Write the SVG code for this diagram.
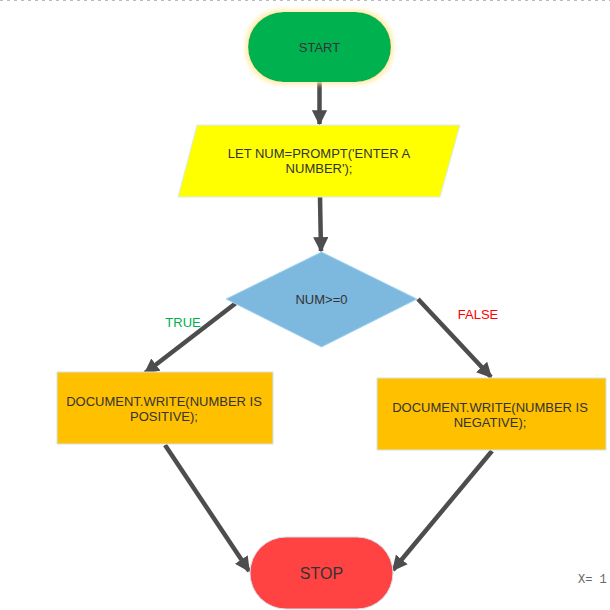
<svg xmlns="http://www.w3.org/2000/svg" width="610" height="610" viewBox="0 0 610 610">
<style>
  .t{font-family:"Liberation Sans",Arial,sans-serif;font-size:13px;fill:#333;text-anchor:middle}
  .c{stroke:#4d4d4d;stroke-width:4.5;fill:none;marker-end:url(#ah)}
</style>
<defs>
  <marker id="ah" viewBox="0 0 10 10" refX="9" refY="5" markerWidth="3.4" markerHeight="3.4" orient="auto" markerUnits="strokeWidth">
    <path d="M0,0 L10,5 L0,10 z" fill="#4d4d4d"/>
  </marker>
  <filter id="glow" x="-20%" y="-30%" width="140%" height="160%">
    <feMorphology in="SourceAlpha" operator="dilate" radius="2" result="d"/>
    <feGaussianBlur in="d" stdDeviation="2.5" result="b"/>
    <feFlood flood-color="#ffe9a0"/>
    <feComposite in2="b" operator="in" result="g"/>
    <feMerge><feMergeNode in="g"/><feMergeNode in="SourceGraphic"/></feMerge>
  </filter>
</defs>
<rect width="610" height="610" fill="#fff"/>
<line x1="0" y1="0.5" x2="610" y2="0.5" stroke="#bbb" stroke-width="1" stroke-dasharray="3,4"/>
<g id="connectors">
  <line class="c" x1="319.5" y1="82" x2="319.5" y2="124"/>
  <line class="c" x1="320" y1="197" x2="321" y2="251"/>
  <line class="c" x1="236" y1="303" x2="145" y2="373"/>
  <line class="c" x1="418" y1="299" x2="491" y2="377"/>
  <line class="c" x1="165" y1="445" x2="249" y2="571"/>
  <line class="c" x1="492" y1="451" x2="393" y2="570"/>
</g>
<g id="start">
  <rect x="248" y="12" width="143" height="70" rx="35" fill="#00b14f" filter="url(#glow)"/>
  <text class="t" x="319.5" y="52">START</text>
</g>
<g id="input">
  <polygon points="197,125 460,125 440,197 178,197" fill="#ffff00" stroke="#d6ecf5" stroke-width="1"/>
  <text class="t" x="319" y="158">LET NUM=PROMPT('ENTER A</text>
  <text class="t" x="319" y="173">NUMBER');</text>
</g>
<g id="decision">
  <polygon points="321.5,252 417,299 321.5,347 226,299" fill="#7db8df" stroke="#a9d4ee" stroke-width="1"/>
  <text class="t" x="321.5" y="304">NUM&gt;=0</text>
</g>
<g id="labels">
  <text class="t" x="183" y="327" style="fill:#00b050">TRUE</text>
  <text class="t" x="478" y="319" style="fill:#ff0000">FALSE</text>
</g>
<g id="positive">
  <rect x="57" y="372" width="216" height="72" fill="#ffc000" stroke="#cfe6ee" stroke-width="1"/>
  <text class="t" x="164" y="406">DOCUMENT.WRITE(NUMBER IS</text>
  <text class="t" x="164" y="421">POSITIVE);</text>
</g>
<g id="negative">
  <rect x="377" y="378" width="229" height="72" fill="#ffc000" stroke="#cfe6ee" stroke-width="1"/>
  <text class="t" x="490" y="412">DOCUMENT.WRITE(NUMBER IS</text>
  <text class="t" x="490" y="427">NEGATIVE);</text>
</g>
<g id="stop">
  <rect x="250" y="537" width="143" height="72" rx="36" fill="#ff4343" stroke="#d6dfe8" stroke-width="1"/>
  <text class="t" x="321.5" y="579" style="font-size:16px">STOP</text>
</g>
<text x="578" y="583" style="font-family:'Liberation Mono',monospace;font-size:12px;fill:#666">X= 1</text>
</svg>
